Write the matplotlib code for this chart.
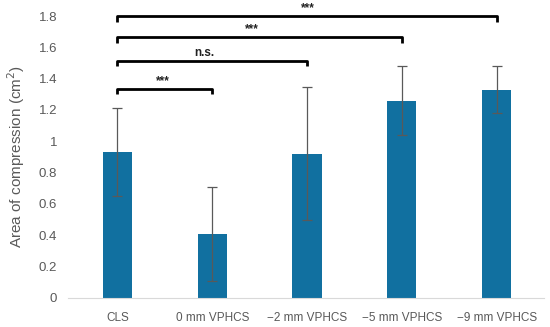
import numpy as np
import matplotlib
matplotlib.use("Agg")
import matplotlib.pyplot as plt

plt.rcParams['font.family'] = ['Liberation Sans', 'DejaVu Sans']

groups = ['CLS', '0 mm VPHCS', '\u22122 mm VPHCS', '\u22125 mm VPHCS', '\u22129 mm VPHCS']
means = [0.93, 0.41, 0.92, 1.26, 1.33]
errs = [0.28, 0.30, 0.425, 0.22, 0.15]
# significance brackets: (left group, right group, height, label, label x)
pairs = [(0, 1, 1.334, '***', 0.48),
         (0, 2, 1.514, 'n.s.', 0.92),
         (0, 3, 1.664, '***', 1.42),
         (0, 4, 1.80, '***', 2.01)]

fig = plt.figure(figsize=(5.5, 3.27), dpi=100)
ax = fig.add_axes([0.124, 0.089, 0.865, 0.862])

x = np.arange(len(groups))
ax.bar(x, means, width=0.31, color='#1170a0', zorder=2)
ax.errorbar(x, means, yerr=errs, fmt='none', ecolor='#595959', elinewidth=0.9,
            capsize=3.5, capthick=0.9, zorder=3)

for a, b, h, lab, lx in pairs:
    d = 0.035
    ax.plot([x[a], x[a], x[b], x[b]], [h - d, h, h, h - d], color='black',
            lw=2.0, solid_capstyle='butt', clip_on=False, zorder=4)
    ax.text(lx, h + 0.012, lab, ha='center', va='bottom', fontsize=8.5,
            fontweight='bold', color='#222222')

ax.set_xlim(-0.52, 4.5)
ax.set_ylim(0, 1.8)
ax.set_yticks(np.arange(0, 1.81, 0.2))
ax.set_yticklabels(['0', '0.2', '0.4', '0.6', '0.8', '1', '1.2', '1.4', '1.6', '1.8'])
ax.set_xticks(x)
ax.set_xticklabels(groups)
ax.tick_params(axis='both', length=0, colors='#595959', labelsize=9.5)
ax.tick_params(axis='x', pad=10, labelsize=8.5)
ax.tick_params(axis='y', pad=8)
for s in ['top', 'right', 'left']:
    ax.spines[s].set_visible(False)
ax.spines['bottom'].set_color('#d9d9d9')
ax.set_ylabel('Area of compression (cm$^2$)', color='#595959', fontsize=11, labelpad=8)

fig.savefig('out.png', dpi=100)
